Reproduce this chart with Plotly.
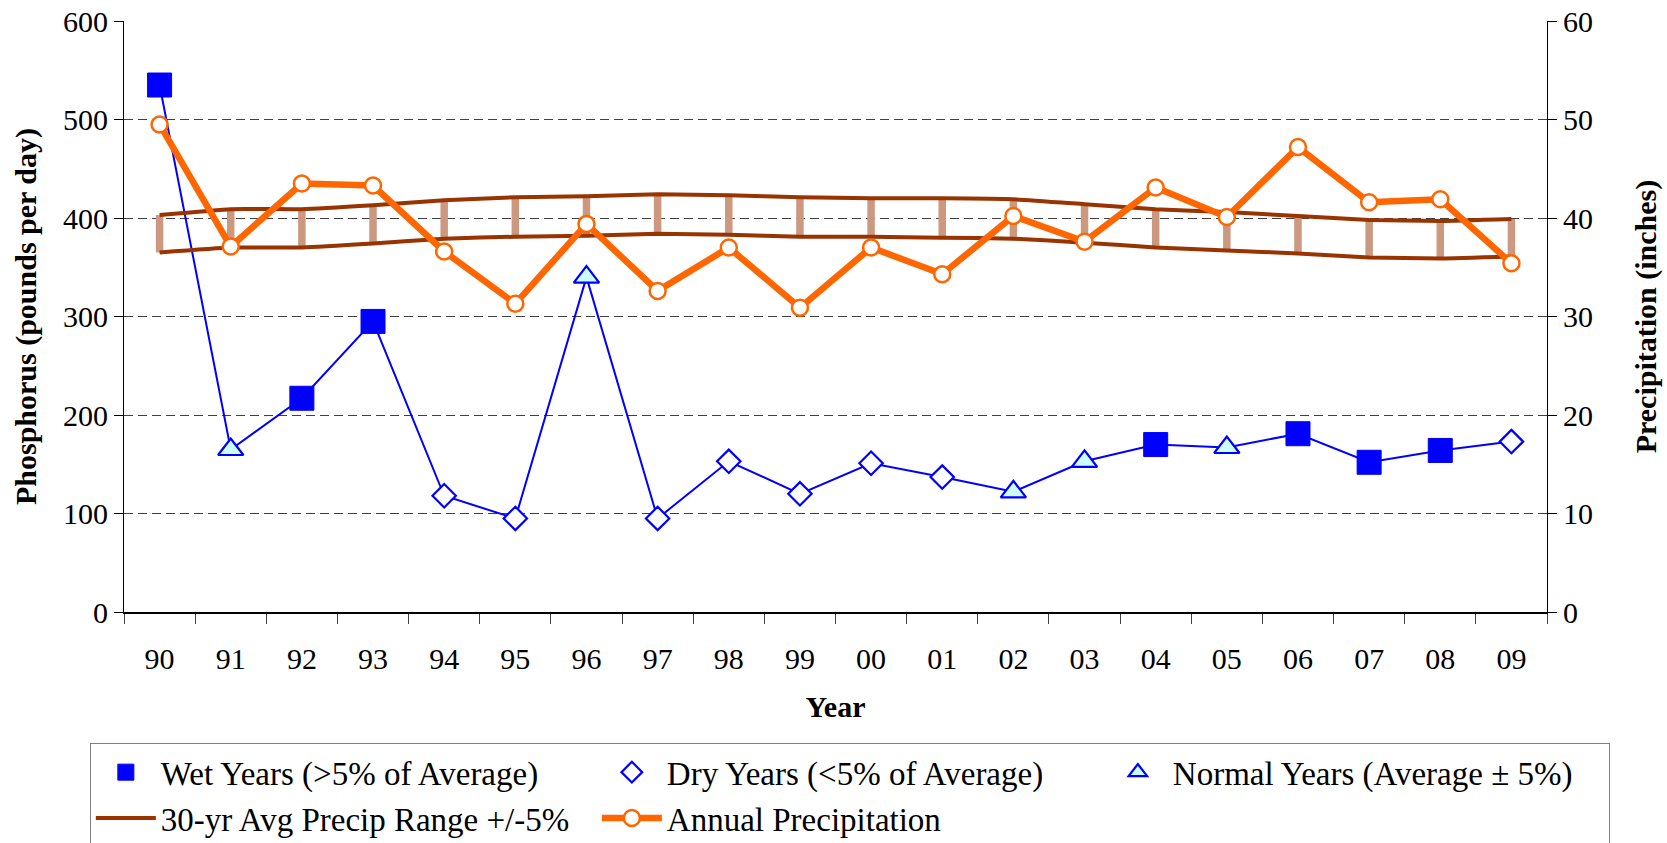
import plotly.graph_objects as go

years = ['90', '91', '92', '93', '94', '95', '96', '97', '98', '99',
         '00', '01', '02', '03', '04', '05', '06', '07', '08', '09']
phosphorus = [535, 165, 217, 295, 118, 95, 340, 95, 153, 120,
              151, 137, 122, 153, 170, 167, 181, 152, 164, 173]
year_type = ['wet', 'normal', 'wet', 'wet', 'dry', 'dry', 'normal', 'dry', 'dry', 'dry',
             'dry', 'dry', 'normal', 'normal', 'wet', 'normal', 'wet', 'wet', 'wet', 'dry']
precip = [49.5, 37.1, 43.5, 43.3, 36.6, 31.3, 39.4, 32.6, 37.0, 30.9,
          37.0, 34.3, 40.2, 37.6, 43.1, 40.1, 47.2, 41.6, 41.9, 35.4]
avg_upper = [40.3, 40.9, 40.9, 41.3, 41.8, 42.1, 42.2, 42.4, 42.3, 42.1,
             42.0, 42.0, 41.9, 41.4, 40.9, 40.6, 40.2, 39.8, 39.7, 39.9]
avg_lower = [36.5, 37.0, 37.0, 37.4, 37.9, 38.1, 38.2, 38.4, 38.3, 38.1,
             38.1, 38.0, 37.9, 37.5, 37.0, 36.7, 36.4, 36.0, 35.9, 36.1]

FONT = "Liberation Serif"
BLUE = "#0000FF"
ORANGE = "#FF6600"
DKRED = "#993300"
TAN = "#CC9980"

fig = go.Figure()

# Phosphorus connecting line (left axis)
fig.add_trace(go.Scatter(x=years, y=phosphorus, mode='lines',
                         line=dict(color=BLUE, width=2), showlegend=False, hoverinfo='skip'))

def subset(kind):
    xs = [x for x, t in zip(years, year_type) if t == kind]
    ys = [y for y, t in zip(phosphorus, year_type) if t == kind]
    return xs, ys

xs, ys = subset('wet')
fig.add_trace(go.Scatter(x=xs, y=ys, mode='markers', name='Wet Years (>5% of Average)',
                         marker=dict(symbol='square', size=24, color=BLUE, line=dict(color=BLUE, width=1)),
                         legendrank=1))
xs, ys = subset('dry')
fig.add_trace(go.Scatter(x=xs, y=ys, mode='markers', name='Dry Years (<5% of Average)',
                         marker=dict(symbol='diamond', size=18, color='white', line=dict(color=BLUE, width=2.2)),
                         legendrank=2))
xs, ys = subset('normal')
fig.add_trace(go.Scatter(x=xs, y=ys, mode='markers', name='Normal Years (Average ± 5%)',
                         marker=dict(symbol='triangle-up', size=22, color='#CCFFFF', line=dict(color=BLUE, width=2.2)),
                         legendrank=3))

# High-low bars between the 30-yr range lines (right axis)
diff = [round(u - l, 3) for u, l in zip(avg_upper, avg_lower)]
fig.add_trace(go.Scatter(x=years, y=avg_lower, yaxis='y2', mode='markers',
                         marker=dict(size=1, opacity=0),
                         error_y=dict(type='data', symmetric=False, array=diff,
                                      arrayminus=[0] * len(diff), thickness=7.5, width=0, color=TAN),
                         showlegend=False, hoverinfo='skip'))

fig.add_trace(go.Scatter(x=years, y=avg_upper, yaxis='y2', mode='lines',
                         name='30-yr Avg Precip Range +/-5%',
                         line=dict(color=DKRED, width=4, shape='spline', smoothing=0.4),
                         legendrank=4))
fig.add_trace(go.Scatter(x=years, y=avg_lower, yaxis='y2', mode='lines',
                         line=dict(color=DKRED, width=4, shape='spline', smoothing=0.4),
                         showlegend=False, hoverinfo='skip'))

fig.add_trace(go.Scatter(x=years, y=precip, yaxis='y2', mode='lines+markers',
                         name='Annual Precipitation',
                         line=dict(color=ORANGE, width=6.5),
                         marker=dict(symbol='circle', size=16, color='white', line=dict(color=ORANGE, width=2.5)),
                         legendrank=5))

tickfont = dict(family=FONT, size=30, color='black')
titlefont = dict(family=FONT, size=30, color='black')

fig.update_layout(
    width=1667, height=843,
    margin=dict(l=124, r=120, t=21, b=231, autoexpand=False),
    paper_bgcolor='white', plot_bgcolor='white',
    font=dict(family=FONT, color='black'),
    xaxis=dict(type='category', range=[-0.5, 19.5], tickson='boundaries', automargin=False,
               ticks='outside', ticklen=10, tickcolor='#404040', tickwidth=1,
               showline=True, linecolor='black', linewidth=2, showgrid=False,
               tickfont=tickfont, ticklabelstandoff=19,
               title=dict(text='<b>Year</b>', font=titlefont, standoff=22)),
    yaxis=dict(range=[0, 600], dtick=100, ticks='outside', ticklen=9, tickcolor='black', automargin=False,
               showline=True, linecolor='black', linewidth=1, zeroline=False,
               showgrid=True, gridcolor='#404040', gridwidth=1, griddash='9px,5px',
               tickfont=tickfont,
               title=dict(text='<b>Phosphorus (pounds per day)</b>', font=titlefont, standoff=17)),
    yaxis2=dict(overlaying='y', side='right', range=[0, 60], dtick=10, ticks='outside', ticklen=9,
                tickcolor='black', showline=True, linecolor='black', linewidth=1, zeroline=False,
                showgrid=False, tickfont=tickfont, automargin=False,
                title=dict(text='<b>Precipitation (inches)</b>', font=titlefont, standoff=42)),
    legend=dict(orientation='h', x=-0.024, y=-0.222, xanchor='left', yanchor='top',
                bordercolor='#808080', borderwidth=1, bgcolor='white',
                font=dict(family=FONT, size=33, color='black'),
                entrywidth=431, entrywidthmode='pixels', itemwidth=60, traceorder='normal'),
    showlegend=True,
)

fig.write_html("out.html", config={'displayModeBar': False},
               post_script="document.body.style.margin='0';document.body.style.overflow='hidden';")
